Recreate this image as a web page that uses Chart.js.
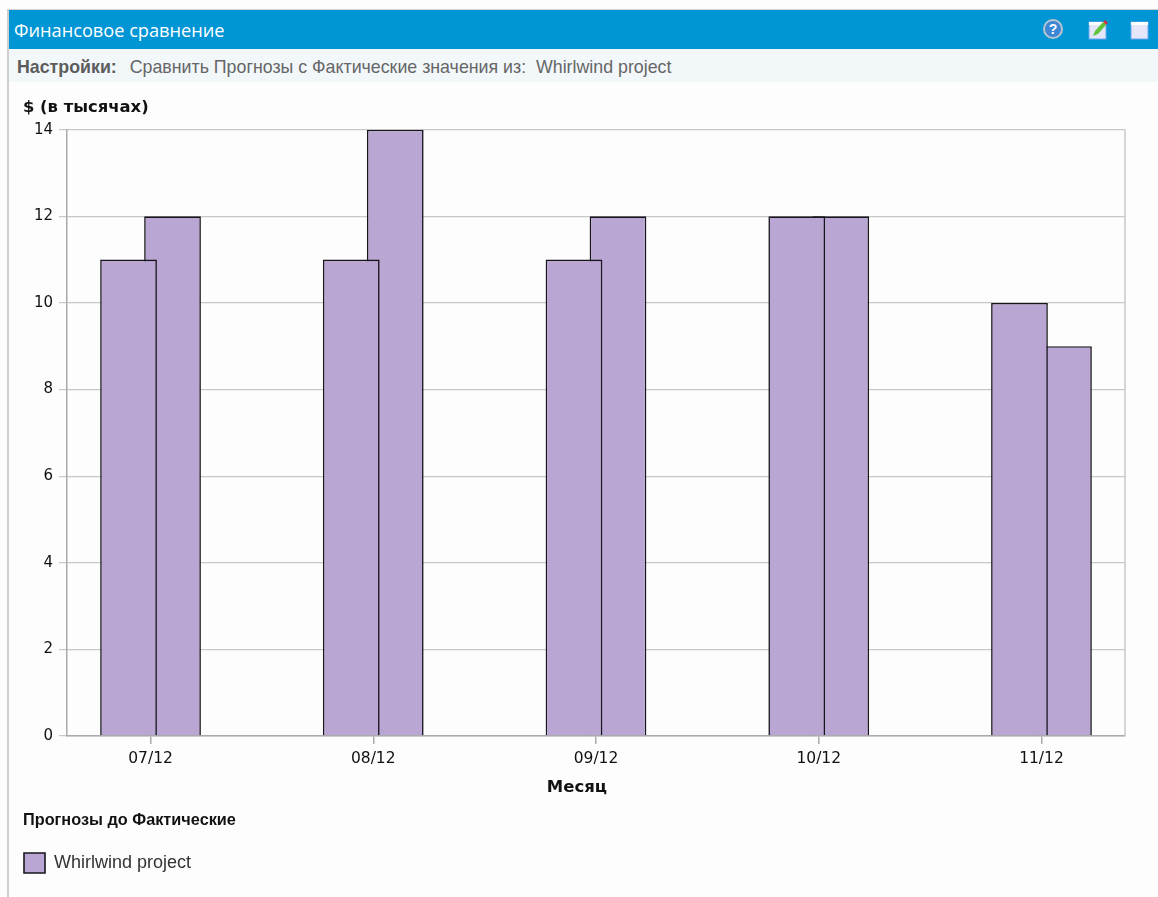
<!DOCTYPE html>
<html>
<head>
<meta charset="utf-8">
<title>Финансовое сравнение</title>
<script src="https://cdn.jsdelivr.net/npm/chart.js@4"></script>
<style>
html, body { margin: 0; padding: 0; background: #fdfdfd; width: 1158px; height: 897px; overflow: hidden; }
#panel { position: absolute; left: 7px; top: 9px; width: 1151px; height: 888px; border-left: 2px solid #cfcfcf; border-top: 1px solid #d4d4d4; box-sizing: border-box; }
#head { position: absolute; left: 0; top: 0; right: 0; height: 39px; background: #0095d5; color: #fff; font: 18.2px "Open Sans", sans-serif; line-height: 41px; padding-left: 5px; }
#opts { position: absolute; left: 0; top: 39px; right: 0; height: 33px; background: #f2f7fa; color: #666; font: 17.8px "Liberation Sans", sans-serif; line-height: 37px; padding-left: 8px; }
#opts b { color: #5c5c5c; margin-right: 8px; }
#head svg { position: absolute; top: 9px; }
canvas { position: absolute; left: 0; top: 73px; }
</style>
</head>
<body>
<div id="panel">
  <div id="head">Финансовое сравнение
    <svg style="left:1034px" width="20" height="20" viewBox="0 0 20 20"><circle cx="10" cy="10" r="9" fill="#3d86d6" stroke="#b9c4d0" stroke-width="2"/><text x="10" y="15" font-family="Liberation Sans" font-weight="bold" font-size="14" text-anchor="middle" fill="#fff">?</text></svg>
    <svg style="left:1078px" width="22" height="22" viewBox="0 0 22 22"><rect x="2" y="3" width="17" height="17" fill="#e6e6fa" stroke="#6aa8f0"/><rect x="2" y="3" width="17" height="3" fill="#fff"/><path d="M6 17 L8 12 L16 3 L19 6 L11 15 Z" fill="#5fc63c"/><path d="M16 3 L18 1 L21 4 L19 6 Z" fill="#c8323c"/></svg>
    <svg style="left:1120px" width="22" height="22" viewBox="0 0 22 22"><rect x="2" y="3" width="17" height="17" fill="#e6e6fa" stroke="#6aa8f0"/><rect x="2" y="3" width="17" height="3" fill="#fff"/></svg>
  </div>
  <div id="opts"><b>Настройки:</b> Сравнить Прогнозы с Фактические значения из:&nbsp; Whirlwind project</div>
  <canvas id="grafica" width="1149" height="814"></canvas>
</div>
<script>
const months = ["07/12", "08/12", "09/12", "10/12", "11/12"];
const forecast = [11, 11, 11, 12, 10];
const actual = [12, 14, 12, 12, 9];
const projectName = "Whirlwind project";
const xTitle = "Месяц";
const barColor = "#baa6d3";
const barEdge = "#17151c";

// right edge of the frame, and the month title which sits left of the plot centre
const frameExtras = {
    id: "frameExtras",
    afterDraw(chart) {
        const a = chart.chartArea, c = chart.ctx;
        c.save();
        c.strokeStyle = "#c8c8c8";
        c.lineWidth = 1.5;
        c.beginPath();
        c.moveTo(a.right, a.top);
        c.lineTo(a.right, a.bottom);
        c.stroke();
        c.fillStyle = "#111";
        c.font = "bold 16.5px 'DejaVu Sans'";
        c.textAlign = "center";
        c.textBaseline = "middle";
        c.fillText(xTitle, a.left + (a.right - a.left) * 0.482, a.bottom + 52);
        c.restore();
    }
};

const barStyle = {
    backgroundColor: barColor,
    borderColor: barEdge,
    borderWidth: 1.6,
    categoryPercentage: 0.395,
    barPercentage: 1.29
};

const ctx = document.getElementById("grafica").getContext("2d");
const grafica = new Chart(ctx, {
    type: "bar",
    data: {
        labels: months,
        datasets: [
            { label: projectName, data: forecast, ...barStyle },
            { label: "Фактические", data: actual, ...barStyle }
        ]
    },
    plugins: [frameExtras],
    options: {
        responsive: false,
        animation: false,
        devicePixelRatio: 1,
        layout: { padding: { left: 14, right: 33, top: 0, bottom: 14 } },
        scales: {
            x: {
                offset: false,
                // first and last months sit a bit inside the frame
                afterBuildTicks(s) { s._startValue = -0.375; s._valueRange = 4.75; },
                afterFit(s) { s.height = 62.5; },
                grid: { offset: false, drawOnChartArea: false, color: "#aaaaaa", tickLength: 8, lineWidth: 1.5 },
                border: { color: "#aaaaaa", width: 1.5 },
                ticks: { color: "#111", font: { family: "DejaVu Sans", size: 15.5 }, maxRotation: 0, padding: 6 }
            },
            y: {
                min: 0,
                max: 14,
                afterFit(s) { s.width = 44; },
                grid: { color: "#c8c8c8", tickLength: 8, lineWidth: 1.2 },
                border: { color: "#aaaaaa", width: 1.5 },
                ticks: { stepSize: 2, color: "#111", font: { family: "DejaVu Sans", size: 15 }, padding: 6 }
            }
        },
        plugins: {
            tooltip: { enabled: false },
            title: {
                display: true,
                text: "$ (в тысячах)",
                align: "start",
                color: "#111",
                font: { family: "DejaVu Sans", size: 16.4, weight: "bold" },
                padding: { top: 15, bottom: 12 }
            },
            legend: {
                position: "bottom",
                align: "start",
                title: {
                    display: true,
                    position: "start",
                    text: "Прогнозы до Фактические",
                    color: "#111",
                    font: { family: "Liberation Sans", size: 16.3, weight: "bold" },
                    padding: { top: 14, bottom: 20 }
                },
                labels: {
                    boxWidth: 21,
                    boxHeight: 20,
                    padding: 1,
                    color: "#333",
                    font: { family: "Liberation Sans", size: 18 },
                    filter: (item) => item.datasetIndex === 0
                }
            }
        }
    }
});
</script>
</body>
</html>
